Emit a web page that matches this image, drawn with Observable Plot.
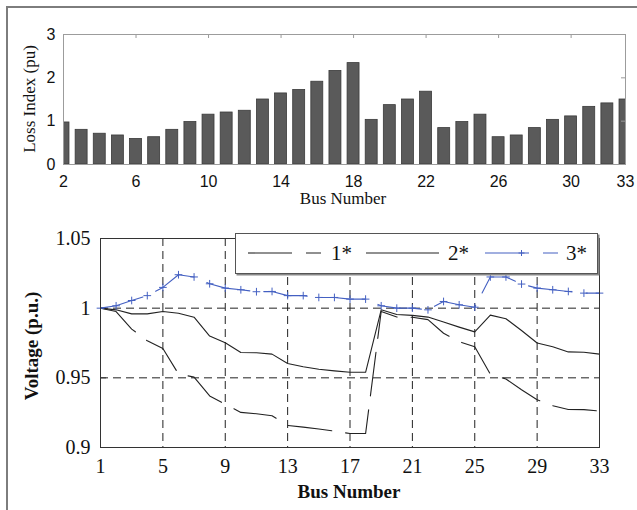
<!DOCTYPE html>
<html>
<head>
<meta charset="utf-8">
<script src="https://cdn.jsdelivr.net/npm/d3@7"></script>
<script src="https://cdn.jsdelivr.net/npm/@observablehq/plot@0.6"></script>
<style>
  html, body { margin: 0; padding: 0; background: #fff; }
  #page { position: relative; width: 637px; height: 510px; overflow: hidden; background: #fff; }
  #border { position: absolute; left: 6px; top: 6px; width: 700px; height: 600px; border-left: 2px solid #7d7d7d; border-top: 2px solid #7d7d7d; }
  .abs { position: absolute; }
  .lbl { position: absolute; white-space: nowrap; color: #111; font-family: "Liberation Serif", "Times New Roman", serif; transform: translate(-50%, -50%); }
  .rot { transform: translate(-50%, -50%) rotate(-90deg); }
  #legend { position: absolute; left: 235px; top: 233px; width: 361px; height: 39px; background: #fff; border: 1px solid #555; box-shadow: 1.5px 1.5px 0 #888; }
</style>
</head>
<body>
<div id="page">
  <div id="border"></div>
  <div id="topChart" class="abs" style="left:0;top:0"></div>
  <div id="botChart" class="abs" style="left:0;top:210px"></div>
  <div class="lbl rot" style="left:30px;top:99px;font-size:17px">Loss Index (pu)</div>
  <div class="lbl" style="left:343px;top:199px;font-size:17px">Bus Number</div>
  <div class="lbl rot" style="left:32px;top:346px;font-size:19px;font-weight:bold">Voltage (p.u.)</div>
  <div class="lbl" style="left:349px;top:492px;font-size:19px;font-weight:bold">Bus Number</div>
  <div id="legend"></div>
</div>
<script>
// ---- data ----
const lossBuses = [2,3,4,5,6,7,8,9,10,11,12,13,14,15,16,17,18,19,20,21,22,23,24,25,26,27,28,29,30,31,32,33];
const lossIndex = [0.97,0.80,0.71,0.67,0.59,0.63,0.80,0.98,1.15,1.20,1.24,1.50,1.64,1.72,1.91,2.16,2.34,1.03,1.37,1.50,1.68,0.84,0.98,1.15,0.63,0.67,0.84,1.03,1.11,1.33,1.41,1.50];
const lossTicksX = [2,6,10,14,18,22,26,30,33];
const lossTicksY = [0,1,2,3];

const buses = [1,2,3,4,5,6,7,8,9,10,11,12,13,14,15,16,17,18,19,20,21,22,23,24,25,26,27,28,29,30,31,32,33];
const seriesNames = ["1*","2*","3*"];
const volt1 = [1.0,0.9976,0.985,0.9766,0.9711,0.9528,0.9505,0.937,0.931,0.9252,0.9242,0.9228,0.9158,0.9146,0.9133,0.9117,0.910,0.910,0.9976,0.9937,0.9935,0.9918,0.982,0.976,0.9723,0.9526,0.9492,0.9415,0.9343,0.930,0.9273,0.9272,0.9261];
const volt2 = [1.0,0.9988,0.9959,0.9959,0.9976,0.9964,0.9935,0.980,0.9752,0.9682,0.968,0.967,0.9603,0.958,0.9562,0.955,0.954,0.954,0.9988,0.9955,0.9948,0.9936,0.990,0.9864,0.983,0.995,0.9924,0.984,0.975,0.9723,0.9686,0.9684,0.967];
const volt3 = [1.0,1.0017,1.0055,1.009,1.0149,1.024,1.0224,1.0175,1.0144,1.0132,1.0118,1.012,1.009,1.009,1.0077,1.0077,1.0065,1.0065,1.0017,1.0,1.0,0.9988,1.0048,1.0024,1.0007,1.0224,1.0224,1.0173,1.0144,1.0132,1.012,1.0108,1.0108];
const voltTicksX = [1,5,9,13,17,21,25,29,33];
const voltTicksY = [0.9,0.95,1,1.05];
const gridX = [5,9,13,17,21,25,29];
const gridY = [0.95,1];

// ---- styles ----
const BLUE = "#4460c2";
const DASH = "44,14";

const lossData = lossBuses.map((b,i) => ({bus: b, loss: lossIndex[i]}));
const d1 = buses.map((b,i) => ({bus: b, v: volt1[i]}));
const d2 = buses.map((b,i) => ({bus: b, v: volt2[i]}));
const d3v = buses.map((b,i) => ({bus: b, v: volt3[i]}));

const topPlot = Plot.plot({
  width: 637, height: 210,
  marginLeft: 63, marginRight: 12, marginTop: 34, marginBottom: 46,
  style: {fontFamily: "'Liberation Sans', Arial, sans-serif", fontSize: "16px", background: "transparent", color: "#111"},
  x: {domain: [2, 33]},
  y: {domain: [0, 3]},
  marks: [
    Plot.rectY(lossData, {x1: d => d.bus - 0.33, x2: d => d.bus + 0.33, y1: 0, y2: "loss", fill: "#5a5a5a", stroke: "#3a3a3a", strokeWidth: 0.8, clip: true}),
    Plot.ruleX(lossTicksX.slice(1, -1), {x: d => d, stroke: "#999", insetBottom: 126}),
    Plot.ruleY([1, 2], {y: d => d, stroke: "#999", insetLeft: 558}),
    Plot.frame({stroke: "#9c9c9c"}),
    Plot.axisX(lossTicksX, {tickSize: 0, tickPadding: 11, label: null}),
    Plot.axisY(lossTicksY, {tickSize: 0, tickPadding: 8, label: null})
  ]
});
document.getElementById("topChart").appendChild(topPlot);

const botPlot = Plot.plot({
  width: 637, height: 300,
  marginLeft: 100, marginRight: 38, marginTop: 28, marginBottom: 63,
  style: {fontFamily: "'Liberation Serif', 'Times New Roman', serif", fontSize: "20px", background: "transparent", color: "#111"},
  x: {domain: [1, 33]},
  y: {domain: [0.9, 1.05]},
  marks: [
    Plot.ruleX(gridX, {x: d => d, stroke: "#222", strokeDasharray: "8,5"}),
    Plot.ruleY(gridY, {y: d => d, stroke: "#222", strokeDasharray: "8,5"}),
    Plot.ruleY(voltTicksY.slice(1, -1), {y: d => d, stroke: "#333", insetRight: 493}),
    Plot.line(d2, {x: "bus", y: "v", stroke: "#222", strokeWidth: 1.1}),
    Plot.line(d1, {x: "bus", y: "v", stroke: "#222", strokeWidth: 1.1, strokeDasharray: DASH}),
    Plot.line(d3v, {x: "bus", y: "v", stroke: BLUE, strokeWidth: 1.1, strokeDasharray: DASH}),
    Plot.dot(d3v, {x: "bus", y: "v", symbol: "plus", r: 2.6, stroke: BLUE, strokeWidth: 1}),
    Plot.frame({stroke: "#333"}),
    Plot.axisX(voltTicksX, {tickSize: 0, tickPadding: 11, label: null}),
    Plot.axisY(voltTicksY, {tickSize: 0, tickPadding: 10, label: null, tickFormat: d => String(+d.toFixed(2))})
  ]
});
document.getElementById("botChart").appendChild(botPlot);

// ---- legend ----
const ns = "http://www.w3.org/2000/svg";
const lg = document.createElementNS(ns, "svg");
lg.setAttribute("width", 361); lg.setAttribute("height", 39);
lg.style.display = "block";
const entries = [
  {name: seriesNames[0], x0: 12, color: "#222", dash: DASH, marker: false, tx: 95},
  {name: seriesNames[1], x0: 130, color: "#222", dash: null, marker: false, tx: 212},
  {name: seriesNames[2], x0: 249, color: BLUE, dash: DASH, marker: true, tx: 330}
];
for (const e of entries) {
  const l = document.createElementNS(ns, "line");
  l.setAttribute("x1", e.x0); l.setAttribute("x2", e.x0 + 73);
  l.setAttribute("y1", 19); l.setAttribute("y2", 19);
  l.setAttribute("stroke", e.color); l.setAttribute("stroke-width", 1.1);
  if (e.dash) l.setAttribute("stroke-dasharray", e.dash);
  lg.appendChild(l);
  if (e.marker) {
    const p = document.createElementNS(ns, "path");
    const cx = e.x0 + 36.5;
    p.setAttribute("d", `M${cx-3},19H${cx+3}M${cx},16V22`);
    p.setAttribute("stroke", e.color); p.setAttribute("stroke-width", 1);
    lg.appendChild(p);
  }
  const t = document.createElementNS(ns, "text");
  t.setAttribute("x", e.tx); t.setAttribute("y", 26);
  t.setAttribute("font-family", "'Liberation Serif', 'Times New Roman', serif");
  t.setAttribute("font-size", 21);
  t.setAttribute("fill", "#111");
  t.textContent = e.name;
  lg.appendChild(t);
}
document.getElementById("legend").appendChild(lg);
</script>
</body>
</html>
